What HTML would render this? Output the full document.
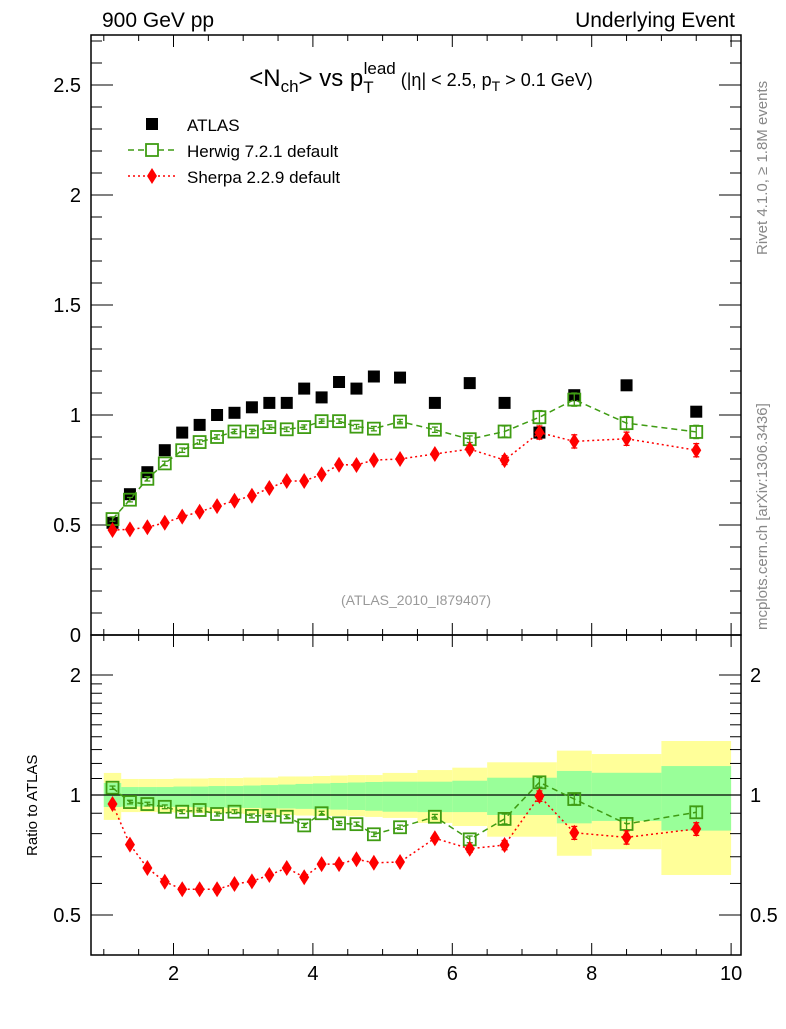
<!DOCTYPE html>
<html><head><meta charset="utf-8"><style>
body{margin:0;background:#fff;}
svg text{font-family:"Liberation Sans",Arial,sans-serif;}
</style></head><body>
<svg id="c" width="786" height="1024" xmlns="http://www.w3.org/2000/svg"></svg>
<script>
const xCenters=[1.125,1.375,1.625,1.875,2.125,2.375,2.625,2.875,3.125,3.375,3.625,3.875,4.125,4.375,4.625,4.875,5.25,5.75,6.25,6.75,7.25,7.75,8.5,9.5];
const xLo=[1,1.25,1.5,1.75,2,2.25,2.5,2.75,3,3.25,3.5,3.75,4,4.25,4.5,4.75,5,5.5,6,6.5,7,7.5,8,9];
const xHi=[1.25,1.5,1.75,2,2.25,2.5,2.75,3,3.25,3.5,3.75,4,4.25,4.5,4.75,5,5.5,6,6.5,7,7.5,8,9,10];
const atlas=[0.51,0.64,0.74,0.84,0.92,0.955,1.0,1.01,1.035,1.055,1.055,1.12,1.08,1.15,1.12,1.175,1.17,1.055,1.145,1.055,0.92,1.09,1.135,1.015];
const herwig=[0.527,0.615,0.71,0.78,0.84,0.877,0.9,0.925,0.925,0.945,0.935,0.945,0.972,0.972,0.947,0.938,0.97,0.933,0.89,0.925,0.99,1.07,0.963,0.923];
const herwigErr=[0.01,0.01,0.01,0.01,0.01,0.01,0.01,0.01,0.01,0.01,0.01,0.01,0.01,0.01,0.01,0.01,0.01,0.012,0.015,0.025,0.03,0.03,0.03,0.03];
const sherpa=[0.477,0.48,0.49,0.51,0.538,0.56,0.586,0.61,0.633,0.668,0.7,0.70,0.73,0.774,0.773,0.795,0.8,0.823,0.845,0.795,0.92,0.88,0.892,0.84];
const sherpaErr=[0.01,0.01,0.01,0.01,0.01,0.01,0.01,0.01,0.01,0.01,0.01,0.01,0.01,0.01,0.01,0.01,0.01,0.012,0.015,0.02,0.03,0.03,0.03,0.03];
const herwigRatio=[1.043,0.960,0.949,0.934,0.908,0.917,0.896,0.908,0.886,0.889,0.882,0.839,0.900,0.849,0.845,0.797,0.830,0.882,0.774,0.871,1.076,0.977,0.846,0.905];
const sherpaRatio=[0.949,0.751,0.656,0.606,0.580,0.580,0.580,0.598,0.607,0.630,0.656,0.622,0.671,0.671,0.690,0.676,0.679,0.779,0.733,0.749,0.994,0.804,0.783,0.822];
const yelHi=[1.136,1.097,1.097,1.097,1.100,1.100,1.103,1.103,1.106,1.106,1.113,1.113,1.116,1.119,1.122,1.122,1.136,1.155,1.171,1.208,1.208,1.292,1.267,1.366];
const yelLo=[0.866,0.906,0.906,0.906,0.903,0.901,0.901,0.899,0.896,0.894,0.891,0.888,0.886,0.886,0.884,0.881,0.876,0.851,0.836,0.786,0.786,0.704,0.731,0.630];
const grnHi=[1.072,1.047,1.047,1.047,1.050,1.050,1.053,1.053,1.056,1.059,1.062,1.066,1.069,1.072,1.075,1.078,1.080,1.080,1.086,1.105,1.105,1.149,1.137,1.182];
const grnLo=[0.933,0.935,0.935,0.934,0.933,0.932,0.930,0.929,0.928,0.926,0.925,0.923,0.921,0.919,0.917,0.913,0.908,0.906,0.906,0.891,0.891,0.849,0.861,0.814];
const mainTicks=[0,0.5,1,1.5,2,2.5];
const mainTickLabels=["0","0.5","1","1.5","2","2.5"];
const ratioTicks=[0.5,1,2];
const ratioTickLabels=["0.5","1","2"];
const xTicks=[2,4,6,8,10];
const xTickLabels=["2","4","6","8","10"];

const svg=document.getElementById('c');
const NS='http://www.w3.org/2000/svg';
const L=91,R=741,T1=35,B1=635,B2=955;
function X(v){return 173.5+(v-2)*69.7;}
function Y1(v){return 635-v*220;}
function Y2(v){return 795-Math.log2(v)*120;}
function el(tag,attrs,parent){const e=document.createElementNS(NS,tag);for(const k in attrs)e.setAttribute(k,attrs[k]);(parent||svg).appendChild(e);return e;}
function txt(s,x,y,attrs){const t=el('text',Object.assign({x:x,y:y,'font-size':20},attrs||{}));t.textContent=s;return t;}

const bands=el('g',{});


xLo.forEach((lo,i)=>{
 const r=el('rect',{x:X(lo),y:Y2(yelHi[i]),width:Math.min(X(xHi[i]),R)-X(lo),height:Y2(yelLo[i])-Y2(yelHi[i]),fill:'#ffff99'},bands);
 
 
});
xLo.forEach((lo,i)=>{
 const r=el('rect',{x:X(lo),y:Y2(grnHi[i]),width:Math.min(X(xHi[i]),R)-X(lo),height:Y2(grnLo[i])-Y2(grnHi[i]),fill:'#99ff99'},bands);
 
 
});
const one=el('line',{x1:L,x2:R,y1:Y2(1),y2:Y2(1),stroke:'#000','stroke-width':1.2});



[[T1,B1,'main-plot-frame'],[B1,B2,'ratio-plot-frame']].forEach(f=>{
 const r=el('rect',{x:L,y:f[0],width:R-L,height:f[1]-f[0],fill:'none',stroke:'#000','stroke-width':1.5});
 
 
});

for(let v=1;v<=10.01;v+=0.5){
 const major=Math.abs(v-Math.round(v/2)*2)<1e-6;
 const len=major?12:6;
 [[T1,1],[B1,-1],[B1,1],[B2,-1]].forEach(p=>{
  el('line',{x1:X(v),x2:X(v),y1:p[0],y2:p[0]+p[1]*len,stroke:'#000','stroke-width':1});
 });
}
xTicks.forEach((v,i)=>{
 const t=txt(xTickLabels[i],X(v),B2+25,{'text-anchor':'middle'});
 
 
});
for(let k=0;k<=27;k++){
 const v=k*0.1;const major=k%5===0;const len=major?22:11;const y=Y1(v);
 el('line',{x1:L,x2:L+len,y1:y,y2:y,stroke:'#000','stroke-width':1});
 el('line',{x1:R,x2:R-len,y1:y,y2:y,stroke:'#000','stroke-width':1});
}
mainTicks.forEach((v,i)=>{
 const t=txt(mainTickLabels[i],81,Y1(v)+7,{'text-anchor':'end'});
 
 
});
[0.5,0.6,0.7,0.8,0.9,1,1.1,1.2,1.3,1.4,1.5,1.6,1.7,1.8,1.9,2].forEach(v=>{
 const major=(v===0.5||v===1||v===2);const len=major?22:11;const y=Y2(v);
 el('line',{x1:L,x2:L+len,y1:y,y2:y,stroke:'#000','stroke-width':1});
 el('line',{x1:R,x2:R-len,y1:y,y2:y,stroke:'#000','stroke-width':1});
});
ratioTicks.forEach((v,i)=>{
 const t=txt(ratioTickLabels[i],81,Y2(v)+7,{'text-anchor':'end'});
 
 
 const t2=txt(ratioTickLabels[i],750,Y2(v)+7,{'text-anchor':'start'});
 
 
});

function series(vals,errs,yf,color,dash,kind,name){
 const g=el('g',{});
 
 
 if(dash){
  el('polyline',{points:vals.map((v,i)=>X(xCenters[i])+','+yf(v)).join(' '),fill:'none',stroke:color,'stroke-width':1.5,'stroke-dasharray':dash},g);
 }
 vals.forEach((v,i)=>{
  const x=X(xCenters[i]),y=yf(v);
  if(errs){const e=errs[i];const y1=yf(v+e),y2=yf(v-e);
   el('line',{x1:x,x2:x,y1:y1,y2:y2,stroke:color,'stroke-width':1.3},g);
   el('line',{x1:x-3,x2:x+3,y1:y1,y2:y1,stroke:color,'stroke-width':1.3},g);
   el('line',{x1:x-3,x2:x+3,y1:y2,y2:y2,stroke:color,'stroke-width':1.3},g);}
  let m;
  if(kind==='sq') m=el('rect',{x:x-6,y:y-6,width:12,height:12,fill:'#000'},g);
  else if(kind==='open') m=el('rect',{x:x-6,y:y-6,width:12,height:12,fill:'none',stroke:color,'stroke-width':1.8},g);
  else m=el('polygon',{points:`${x},${y-8} ${x+5},${y} ${x},${y+8} ${x-5},${y}`,fill:color},g);
  
  
 });
}
series(atlas,null,Y1,'#000',null,'sq','atlas-data');
series(herwig,herwigErr,Y1,'#3f9c13','6,4','open','herwig-series');
series(sherpa,sherpaErr,Y1,'#ff0000','2,3','dia','sherpa-series');
series(herwigRatio,herwigErr,Y2,'#3f9c13','6,4','open','herwig-ratio');
series(sherpaRatio,sherpaErr,Y2,'#ff0000','2,3','dia','sherpa-ratio');
</script>
<svg width="786" height="1024" style="position:absolute;left:0;top:0" xmlns="http://www.w3.org/2000/svg">
<text x="102" y="27" font-size="21">900 GeV pp</text>
<text x="735" y="27" font-size="21" text-anchor="end">Underlying Event</text>
<text x="421" y="86" font-size="24" text-anchor="middle">&lt;N<tspan font-size="17" dy="6">ch</tspan><tspan dy="-6">&gt; vs p</tspan><tspan font-size="17" dy="7">T</tspan><tspan font-size="17" dx="-10" dy="-19">lead</tspan><tspan font-size="18" dy="12"> (|η| &lt; 2.5, p</tspan><tspan font-size="14" dy="5">T</tspan><tspan font-size="18" dy="-5"> &gt; 0.1 GeV)</tspan></text>
<g>
<rect x="146" y="118" width="12" height="12" fill="#000"/>
<text x="187" y="131" font-size="17">ATLAS</text>
<line x1="128" x2="178" y1="150" y2="150" stroke="#3f9c13" stroke-width="1.5" stroke-dasharray="6,4"/>
<rect x="146" y="144" width="12" height="12" fill="#fff" stroke="#3f9c13" stroke-width="1.8"/>
<text x="187" y="157" font-size="17">Herwig 7.2.1 default</text>
<line x1="128" x2="178" y1="176" y2="176" stroke="#ff0000" stroke-width="1.5" stroke-dasharray="2,3"/>
<polygon points="152,168 157,176 152,184 147,176" fill="#ff0000"/>
<text x="187" y="183" font-size="17">Sherpa 2.2.9 default</text>
</g>
<text x="416" y="605" font-size="14" fill="#999" text-anchor="middle">(ATLAS_2010_I879407)</text>
<text transform="translate(767,255) rotate(-90)" font-size="15" fill="#888">Rivet 4.1.0, ≥ 1.8M events</text>
<text transform="translate(767,630) rotate(-90)" font-size="15" fill="#888">mcplots.cern.ch [arXiv:1306.3436]</text>
<text transform="translate(37,856) rotate(-90)" font-size="15">Ratio to ATLAS</text>
</svg>
</body></html>
